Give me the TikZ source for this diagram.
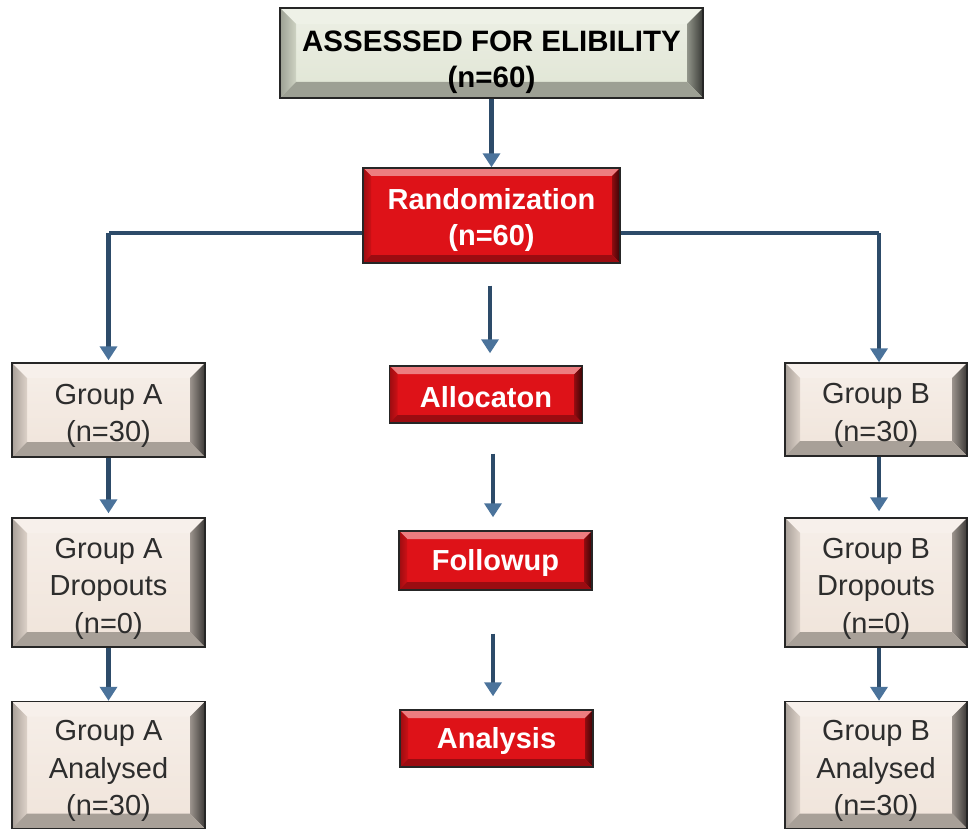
\documentclass[tikz,border=0pt]{standalone}
\usepackage{fontspec}
\setmainfont{Liberation Sans}
\usetikzlibrary{arrows.meta}
\usetikzlibrary{positioning}

\definecolor{beigeface}{RGB}{240,228,218}
\definecolor{sageface}{RGB}{224,229,212}
\definecolor{redface}{RGB}{222,18,24}
\definecolor{flowline}{RGB}{45,75,105}
\definecolor{tipblue}{RGB}{75,115,155}
\definecolor{greytext}{RGB}{45,45,45}

% bevelled faces of a box: #1 colour, #2 bevel width
\newcommand{\bevelfaces}[2]{%
  \path (path picture bounding box.north west) coordinate (pNW)
        (path picture bounding box.north east) coordinate (pNE)
        (path picture bounding box.south west) coordinate (pSW)
        (path picture bounding box.south east) coordinate (pSE);
  \fill[#1!55!white] (pNW) -- (pNE) -- ([shift={(-#2,-#2)}]pNE) -- ([shift={(#2,-#2)}]pNW) -- cycle;
  \shade[left color=#1!70!black,right color=#1!92!black] (pNW) -- (pSW) -- ([shift={(#2,#2)}]pSW) -- ([shift={(#2,-#2)}]pNW) -- cycle;
  \shade[left color=#1!65!black,right color=#1!25!black] (pNE) -- (pSE) -- ([shift={(-#2,#2)}]pSE) -- ([shift={(-#2,-#2)}]pNE) -- cycle;
  \fill[#1!70!black] (pSW) -- (pSE) -- ([shift={(-#2,#2)}]pSE) -- ([shift={(#2,#2)}]pSW) -- cycle;
}
% taller first line, so the text sits a little lower in its box
\newcommand{\lowtext}[1]{\rule{0pt}{#1}}

\tikzset{
  box/.style={draw=black!85, line width=1.4pt, align=center, inner sep=0pt},
  beigebox/.style={box, top color=beigeface!60!white, bottom color=beigeface,
    text=greytext, font=\fontsize{29}{37.5}\selectfont, minimum width=193pt,
    path picture={\bevelfaces{beigeface}{15pt}}},
  sagebox/.style={box, top color=sageface!60!white, bottom color=sageface,
    text=black, font=\bfseries\fontsize{29.5}{36}\selectfont,
    path picture={\bevelfaces{sageface}{16pt}}},
  redbox/.style={box, fill=redface, text=white, minimum width=193pt,
    font=\bfseries\fontsize{29}{36}\selectfont,
    path picture={\bevelfaces{redface}{8pt}}},
  flow/.style={draw=flowline, line width=4.5pt,
    -{Triangle[width=17pt,length=14pt,fill=tipblue,color=tipblue]}},
  plain/.style={draw=flowline, line width=4.5pt}
}

\begin{document}
\begin{tikzpicture}[x=1pt,y=-1pt]
\useasboundingbox (0,0) rectangle (968,829);

% middle column
\node[sagebox, minimum width=423pt, minimum height=90pt] (assess) at (491.5,53) {\lowtext{40pt}ASSESSED FOR ELIBILITY\\(n=60)};
\node[redbox, minimum width=257pt, minimum height=95pt] (rand) at (491.5,215.5) {\lowtext{30pt}Randomization\\(n=60)};
\node[redbox, minimum height=57pt] (alloc) at (486,394.5) {\lowtext{26pt}Allocaton};
\node[redbox, minimum height=59pt] (follow) at (495.5,560.5) {\lowtext{26pt}Followup};
\node[redbox, minimum height=57pt] (analysis) at (496.5,738.5) {\lowtext{26pt}Analysis};

% group A
\node[beigebox, minimum height=94pt] (grpA) at (108.5,410) {\lowtext{32pt}Group A\\(n=30)};
\node[beigebox, minimum height=129pt] (dropA) at (108.5,582.5) {\lowtext{32pt}Group A\\Dropouts\\(n=0)};
\node[beigebox, minimum height=127pt] (anaA) at (108.5,765) {\lowtext{32pt}Group A\\Analysed\\(n=30)};

% group B
\node[beigebox, minimum width=182pt, minimum height=93pt] (grpB) at (876,409.5) {\lowtext{32pt}Group B\\(n=30)};
\node[beigebox, minimum width=182pt, minimum height=129pt] (dropB) at (876,582.5) {\lowtext{32pt}Group B\\Dropouts\\(n=0)};
\node[beigebox, minimum width=182pt, minimum height=127pt] (anaB) at (876,765) {\lowtext{32pt}Group B\\Analysed\\(n=30)};

\coordinate (splitL) at (108.5,233);
\coordinate (splitR) at (879,233);

% connectors
\draw[flow] (assess.south) -- (rand.north);
\draw[plain] (rand.west |- splitL) -- (splitL);
\draw[flow] (splitL) -- ([shift={(0pt,2pt)}]grpA.north);
\draw[plain] (rand.east |- splitR) -- (splitR);
\draw[flow] (splitR) -- (splitR |- grpB.north);

\draw[flow, shorten <=22pt, shorten >=12pt] (rand.south -| 490,0) -- (alloc.north -| 490,0);
\draw[flow, shorten <=30pt, shorten >=13pt] (alloc.south -| 493,0) -- (follow.north -| 493,0);
\draw[flow, shorten <=43pt, shorten >=13pt] (follow.south -| 493,0) -- (analysis.north -| 493,0);

\draw[flow, shorten >=4pt] (grpA.south) -- (dropA.north);
\draw[flow] (dropA.south) -- (anaA.north);
\draw[flow, shorten >=6pt] (grpB.south -| splitR) -- (dropB.north -| splitR);
\draw[flow] (dropB.south -| splitR) -- (anaB.north -| splitR);

\end{tikzpicture}
\end{document}
